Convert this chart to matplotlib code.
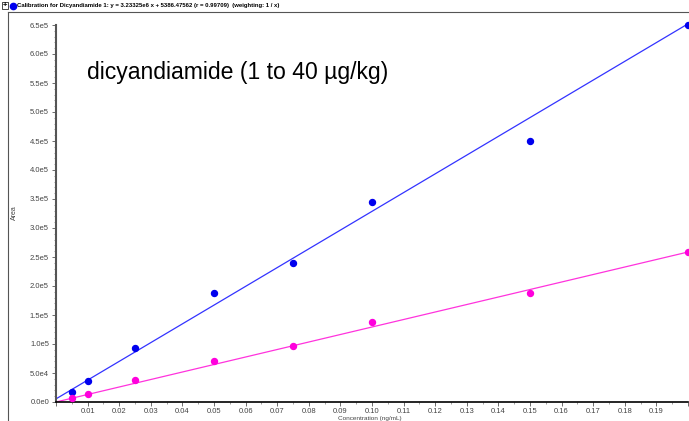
import numpy as np
import matplotlib.pyplot as plt
from matplotlib.ticker import MultipleLocator, FuncFormatter
from matplotlib.lines import Line2D
from matplotlib.patches import Rectangle

plt.rcParams['font.family'] = ['Liberation Sans', 'DejaVu Sans']

# calibration points (concentration ng/mL, area)
conc = [0.005, 0.01, 0.025, 0.05, 0.075, 0.10, 0.15, 0.20]
area_blue = [17500, 36500, 93500, 188000, 240000, 345000, 450000, 650000]
area_pink = [6900, 13800, 37900, 70700, 96500, 138000, 188000, 259000]

# fitted lines (slope, intercept)
fit_blue = (3.23325e6, 5386.47562)
fit_pink = (1.293e6, 0.0)

title_txt = 'Calibration for Dicyandiamide 1: y = 3.23325e6 x + 5386.47562 (r = 0.99709)  (weighting: 1 / x)'
note_txt = 'dicyandiamide (1 to 40 \u00b5g/kg)'

fig = plt.figure(figsize=(6.89, 4.21), dpi=100)
ax = fig.add_axes([56/689, 1-402/421, 632/689, (402-25)/421])

xx = np.array([0, 0.2])
ax.plot(xx, fit_blue[0]*xx + fit_blue[1], color='#3333ff', lw=0.9, zorder=2)
ax.plot(xx, fit_pink[0]*xx + fit_pink[1], color='#ff33dd', lw=0.9, zorder=2)
ax.plot(conc, area_blue, 'o', color='#0000ee', ms=4.3, zorder=3, clip_on=False)
ax.plot(conc, area_pink, 'o', color='#ff00dd', ms=4.3, zorder=3, clip_on=False)

ax.set_xlim(0, 0.2)
ax.set_ylim(0, 6.5e5)
ax.xaxis.set_major_locator(MultipleLocator(0.01))
ax.xaxis.set_minor_locator(MultipleLocator(0.005))
ax.yaxis.set_major_locator(MultipleLocator(5e4))
ax.yaxis.set_minor_locator(MultipleLocator(1e4))

def yfmt(v, pos):
    if v == 0:
        return '0.0e0'
    e = int(np.floor(np.log10(abs(v))))
    return '%.1fe%d' % (v/10**e, e)

def xfmt(v, pos):
    # no label at both ends of the axis
    if v < 0.005 or v > 0.195:
        return ''
    return '%.2f' % v

ax.yaxis.set_major_formatter(FuncFormatter(yfmt))
ax.xaxis.set_major_formatter(FuncFormatter(xfmt))

for s in ['top', 'right']:
    ax.spines[s].set_visible(False)
ax.spines['left'].set_color('#555555')
ax.spines['left'].set_linewidth(1.5)
ax.spines['bottom'].set_color('black')
ax.spines['bottom'].set_linewidth(1.2)
ax.tick_params(axis='both', which='major', labelsize=5.5, labelcolor='#444444',
               length=3, width=0.6, color='#555555', pad=2)
ax.tick_params(axis='x', which='major', pad=1.5)
ax.tick_params(axis='both', which='minor', length=1.5, width=0.5, color='#777777')

fig.text(87/689, 1-72/421, note_txt, fontsize=16.6, va='center', ha='left', color='black')

# frame lines of the report
fig.add_artist(Line2D([8/689, 1], [1-12/421, 1-12/421], color='#555555', lw=0.8))
fig.add_artist(Line2D([8/689, 8/689], [0, 1-12/421], color='#555555', lw=0.8))

# header with + box and blue marker
fig.add_artist(Rectangle((2/689, 1-9/421), 6/689, 7/421, fill=False,
                         ec='black', lw=0.5, transform=fig.transFigure))
fig.text(5/689, 1-5.5/421, '+', fontsize=5.5, ha='center', va='center', fontweight='bold')
fig.add_artist(Line2D([12.5/689], [1-5.5/421], marker='o', ms=4.5, color='#0000ee'))
fig.text(17/689, 1-5.5/421, title_txt, fontsize=4.3, fontweight='bold',
         ha='left', va='center')

fig.text(14/689, 1-213/421, 'Area', rotation=90, fontsize=5, color='#444444',
         ha='center', va='center')
fig.text(370/689, 0, 'Concentration (ng/mL)', fontsize=4.6, color='#444444',
         ha='center', va='bottom')

fig.savefig('out.png', dpi=100)
